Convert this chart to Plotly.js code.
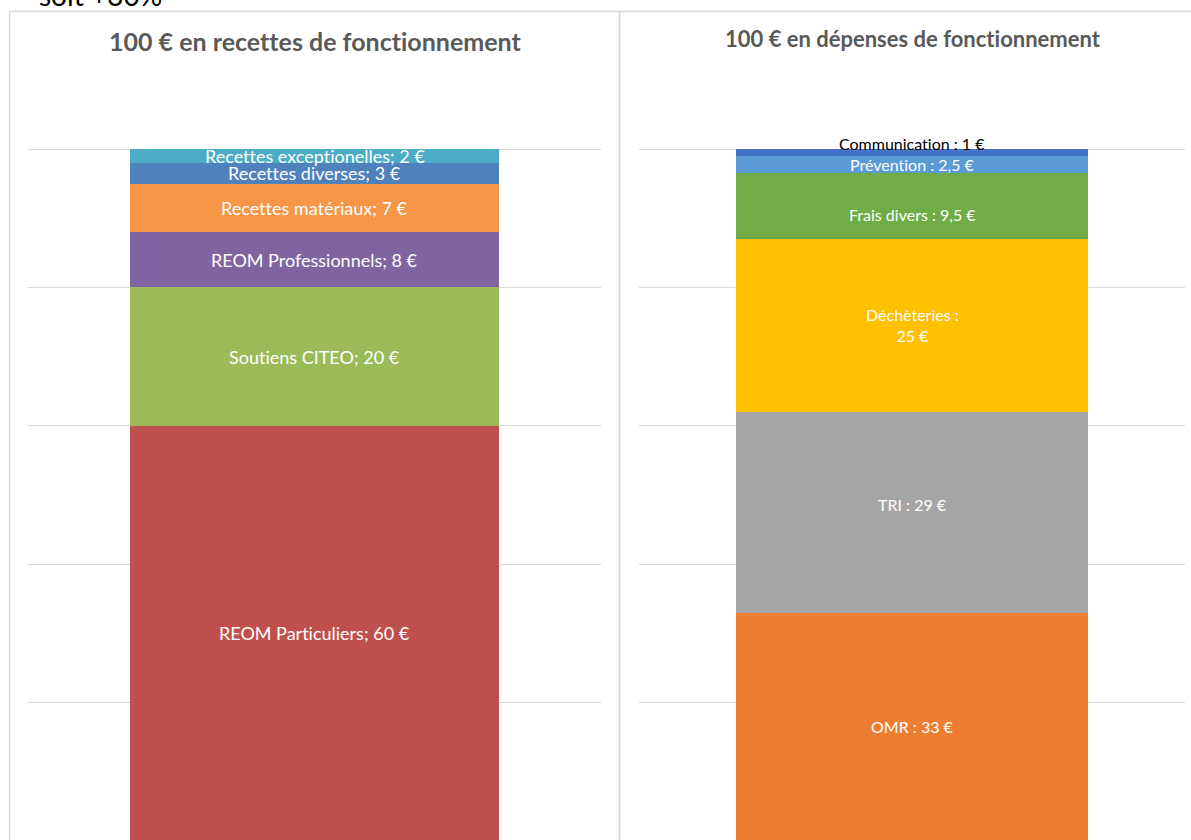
<!DOCTYPE html>
<html><head><meta charset="utf-8">
<script src="https://cdn.plot.ly/plotly-3.0.1.min.js"></script>
<style>html,body{margin:0;padding:0;background:#fff}#chart{width:1191px;height:840px}
text{font-variant-ligatures:none !important;font-feature-settings:"liga" 0,"clig" 0 !important}</style>
</head><body><div id="chart"></div>
<script>
// Recettes (bottom to top)
const recCategories = ["REOM Particuliers", "Soutiens CITEO", "REOM Professionnels", "Recettes matériaux", "Recettes diverses", "Recettes exceptionelles"];
const recValues = [60, 20, 8, 7, 3, 2];
const recLabels = ["REOM Particuliers; 60 €", "Soutiens CITEO; 20 €", "REOM Professionnels; 8 €", "Recettes matériaux; 7 €", "Recettes diverses; 3 €", "Recettes exceptionelles; 2 €"];
const recColors = ["#C0504D", "#9BBB59", "#8064A2", "#F79646", "#4F81BD", "#4BACC6"];

// Dépenses (bottom to top)
const depCategories = ["OMR", "TRI", "Déchèteries", "Frais divers", "Prévention", "Communication"];
const depValues = [33, 29, 25, 9.5, 2.5, 1];
const depLabels = ["OMR : 33 €", "TRI : 29 €", "Déchèteries :<br>25 €", "Frais divers : 9,5 €", "Prévention : 2,5 €", "Communication : 1 €"];
const depColors = ["#ED7D31", "#A5A5A5", "#FFC000", "#70AD47", "#5B9BD5", "#4472C4"];
const depLabelShift = [0, 8, 0, -8, 0, 0];

const font = "Lato, 'Open Sans', sans-serif";
const traces = [];
const annotations = [];

function addStack(cats, vals, labels, colors, xa, ya, size, shifts, outsideLast) {
  let cum = 0;
  cats.forEach((c, i) => {
    traces.push({
      type: "bar", x: [0], y: [vals[i]], name: c, width: 0.644,
      marker: {color: colors[i], line: {width: 0}},
      xaxis: xa, yaxis: ya, hoverinfo: "name+y", showlegend: false
    });
    const mid = cum + vals[i] / 2;
    const isOut = outsideLast && i === cats.length - 1;
    annotations.push({
      xref: xa, yref: ya, x: 0, y: isOut ? cum + vals[i] : mid,
      text: labels[i], showarrow: false,
      yanchor: isOut ? "bottom" : "middle",
      yshift: (shifts ? shifts[i] : 0) + (isOut ? -6 : 0),
      font: {family: font, size: size, color: isOut ? "#000000" : "#FFFFFF"}
    });
    cum += vals[i];
  });
}

addStack(recCategories, recValues, recLabels, recColors, "x", "y", 18, null, false);
addStack(depCategories, depValues, depLabels, depColors, "x2", "y2", 16, depLabelShift, true);

const W = 1191, H = 840;
const pxPerUnit = 6.92;
const yMin = 0.14, yMax = 101;
const yTop = (H - (149 - (yMax - 100) * pxPerUnit)) / H;

annotations.push({xref: "paper", yref: "paper", x: 315 / W, y: (H - 41) / H, text: "<b>100 € en recettes de fonctionnement</b>", showarrow: false, font: {family: font, size: 25, color: "#595959"}, xanchor: "center", yanchor: "middle"});
annotations.push({xref: "paper", yref: "paper", x: 913 / W, y: (H - 39) / H, text: "<b>100 € en dépenses de fonctionnement</b>", showarrow: false, font: {family: font, size: 22, color: "#595959"}, xanchor: "center", yanchor: "middle"});
annotations.push({xref: "paper", yref: "paper", x: 37 / W, y: (H + 5) / H, text: "soit +30%", showarrow: false, font: {family: font, size: 28, color: "#000000"}, xanchor: "left", yanchor: "middle"});

const yax = {range: [yMin, yMax], dtick: 20, tick0: 0, showgrid: true, gridcolor: "#D9D9D9", gridwidth: 1, zeroline: false, showticklabels: false, ticks: "", showline: false, fixedrange: true};

const layout = {
  width: W, height: H, margin: {l: 0, r: 0, t: 0, b: 0},
  paper_bgcolor: "#FFFFFF", plot_bgcolor: "rgba(0,0,0,0)",
  barmode: "stack", bargap: 0, showlegend: false,
  xaxis: {domain: [28 / W, 601 / W], range: [-0.5, 0.5], showticklabels: false, showgrid: false, zeroline: false, ticks: ""},
  xaxis2: {domain: [639 / W, 1185 / W], range: [-0.5, 0.5], showticklabels: false, showgrid: false, zeroline: false, ticks: "", anchor: "y2"},
  yaxis: Object.assign({domain: [0, yTop], anchor: "x"}, yax),
  yaxis2: Object.assign({domain: [0, yTop], anchor: "x2"}, yax),
  annotations: annotations,
  shapes: [
    {type: "rect", xref: "paper", yref: "paper", x0: 9.5 / W, x1: 619.5 / W, y0: -0.01, y1: (H - 11.5) / H, line: {color: "#D9D9D9", width: 1.5}, layer: "below"},
    {type: "rect", xref: "paper", yref: "paper", x0: 619.5 / W, x1: 1.01, y0: -0.01, y1: (H - 11.5) / H, line: {color: "#D9D9D9", width: 1.5}, layer: "below"}
  ]
};

Plotly.newPlot("chart", traces, layout, {displayModeBar: false, staticPlot: true});
</script></body></html>
